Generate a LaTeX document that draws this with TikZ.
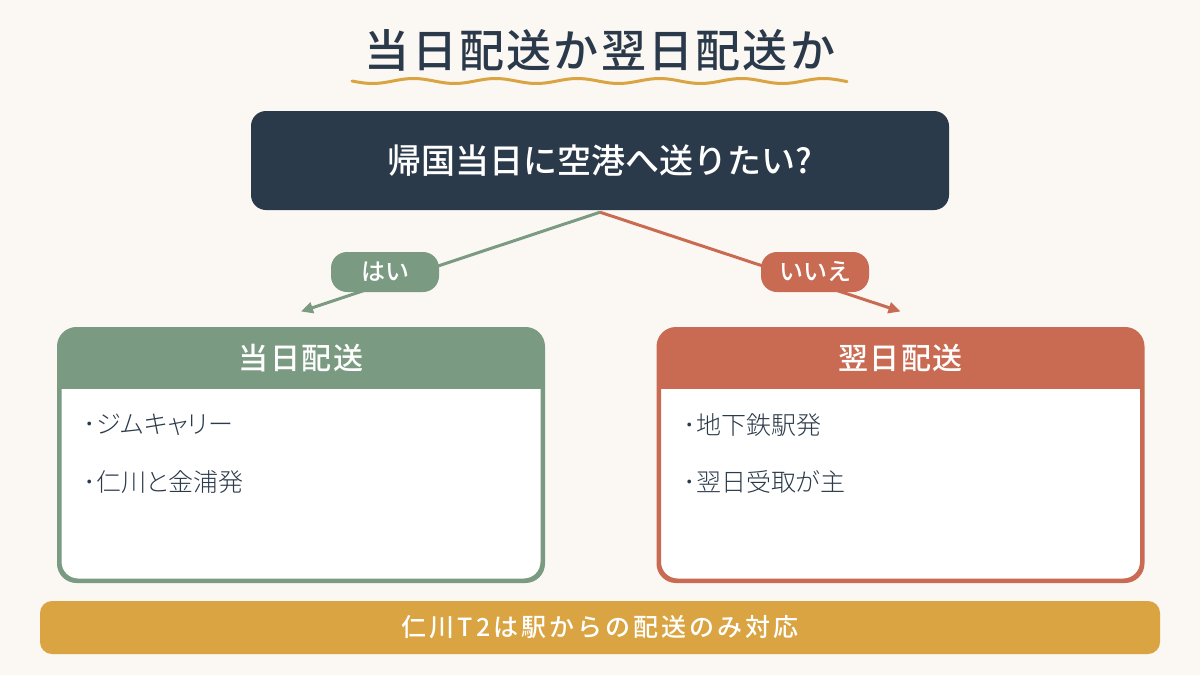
\documentclass[tikz,border=0pt]{standalone}
\usepackage{fontspec}
\setmainfont{Noto Sans CJK JP}
\newfontfamily\medfont{Noto Sans CJK JP Medium}
\newfontfamily\medspaced{Noto Sans CJK JP Medium}[LetterSpace=5]
\newfontfamily\notefont{Noto Sans CJK JP Medium}[LetterSpace=12]
\newfontfamily\itemfont{Noto Sans CJK JP Light}[RawFeature=+palt]
\usetikzlibrary{arrows.meta}

\definecolor{bgcream}{HTML}{FBF7F3}
\definecolor{navy}{HTML}{2B3A4A}
\definecolor{sagegreen}{HTML}{7A9A82}
\definecolor{terracotta}{HTML}{C96B52}
\definecolor{mustard}{HTML}{D9A441}

\tikzstyle{questionbox}=[rectangle,
                         fill=navy,
                         rounded corners=15pt,
                         minimum width=698pt,
                         minimum height=99pt,
                         text=white,
                         font=\medfont\fontsize{34}{38}\selectfont]
\tikzstyle{answerpill}=[rectangle,
                        rounded corners=16pt,
                        minimum width=108pt,
                        minimum height=40pt,
                        text=white,
                        font=\medfont\fontsize{24}{26}\selectfont]
\tikzstyle{choicebox}=[rectangle,
                       fill=white,
                       line width=3pt,
                       rounded corners=18pt,
                       minimum width=482pt,
                       minimum height=250pt]
\tikzstyle{choicehead}=[text=white,
                        font=\medspaced\fontsize{30}{34}\selectfont]
\tikzstyle{choiceitem}=[anchor=west,
                        text=navy,
                        font=\itemfont\fontsize{25}{28}\selectfont]
\tikzstyle{branch}=[line width=3pt, -{Triangle[length=12pt,width=11pt]}]

\begin{document}
\begin{tikzpicture}[x=1pt, y=-1pt]
    \fill [bgcream] (0,0) rectangle (1200,675);
    \useasboundingbox (0,0) rectangle (1200,675);

    % title with wavy underline
    \node (title) [text=navy, font=\medspaced\fontsize{45}{50}\selectfont] at (600,50) {当日配送か翌日配送か};
    \draw [mustard, line width=3pt, line cap=round, domain=0:495, samples=120]
        plot ({\x+352}, {81 + 2.5*sin(\x*4.39)});

    \node (q) [questionbox] at (600,160.5) {帰国当日に空港へ送りたい?};

    % choice boxes
    \node (same) [choicebox, draw=sagegreen] at (301,455) {};
    \node (next) [choicebox, draw=terracotta] at (900.5,455) {};
    \begin{scope}
        \clip [rounded corners=18pt] (same.north west) rectangle (same.south east);
        \fill [sagegreen] (same.north west) rectangle ([yshift=-60pt]same.north east);
    \end{scope}
    \begin{scope}
        \clip [rounded corners=18pt] (next.north west) rectangle (next.south east);
        \fill [terracotta] (next.north west) rectangle ([yshift=-60pt]next.north east);
    \end{scope}
    \draw [sagegreen, line width=3pt, rounded corners=18pt] (same.north west) rectangle (same.south east);
    \draw [terracotta, line width=3pt, rounded corners=18pt] (next.north west) rectangle (next.south east);

    \node (samehead) [choicehead] at ([yshift=-30pt]same.north) {当日配送};
    \node (nexthead) [choicehead] at ([yshift=-30pt]next.north) {翌日配送};

    \node (same1) [choiceitem] at (80,425) {･ジムキャリー};
    \node (same2) [choiceitem] at (80,482) {･仁川と金浦発};
    \node (next1) [choiceitem] at (680,425) {･地下鉄駅発};
    \node (next2) [choiceitem] at (680,482) {･翌日受取が主};

    % branches
    \coordinate (sametip) at ([yshift=17pt]same.north);
    \coordinate (nexttip) at ([yshift=17pt]next.north);
    \draw [branch, sagegreen] ([yshift=-2pt]q.south) -- (sametip);
    \draw [branch, terracotta] ([yshift=-2pt]q.south) -- (nexttip);
    \node (yes) [answerpill, fill=sagegreen] at (385,272) {はい};
    \node (no) [answerpill, fill=terracotta] at (815,272) {いいえ};

    % note banner
    \node (note) [rectangle, fill=mustard, rounded corners=12pt,
                  minimum width=1120pt, minimum height=53pt,
                  text=white, font=\notefont\fontsize{25}{28}\selectfont] at (600,627.5) {仁川T2は駅からの配送のみ対応};
\end{tikzpicture}
\end{document}
